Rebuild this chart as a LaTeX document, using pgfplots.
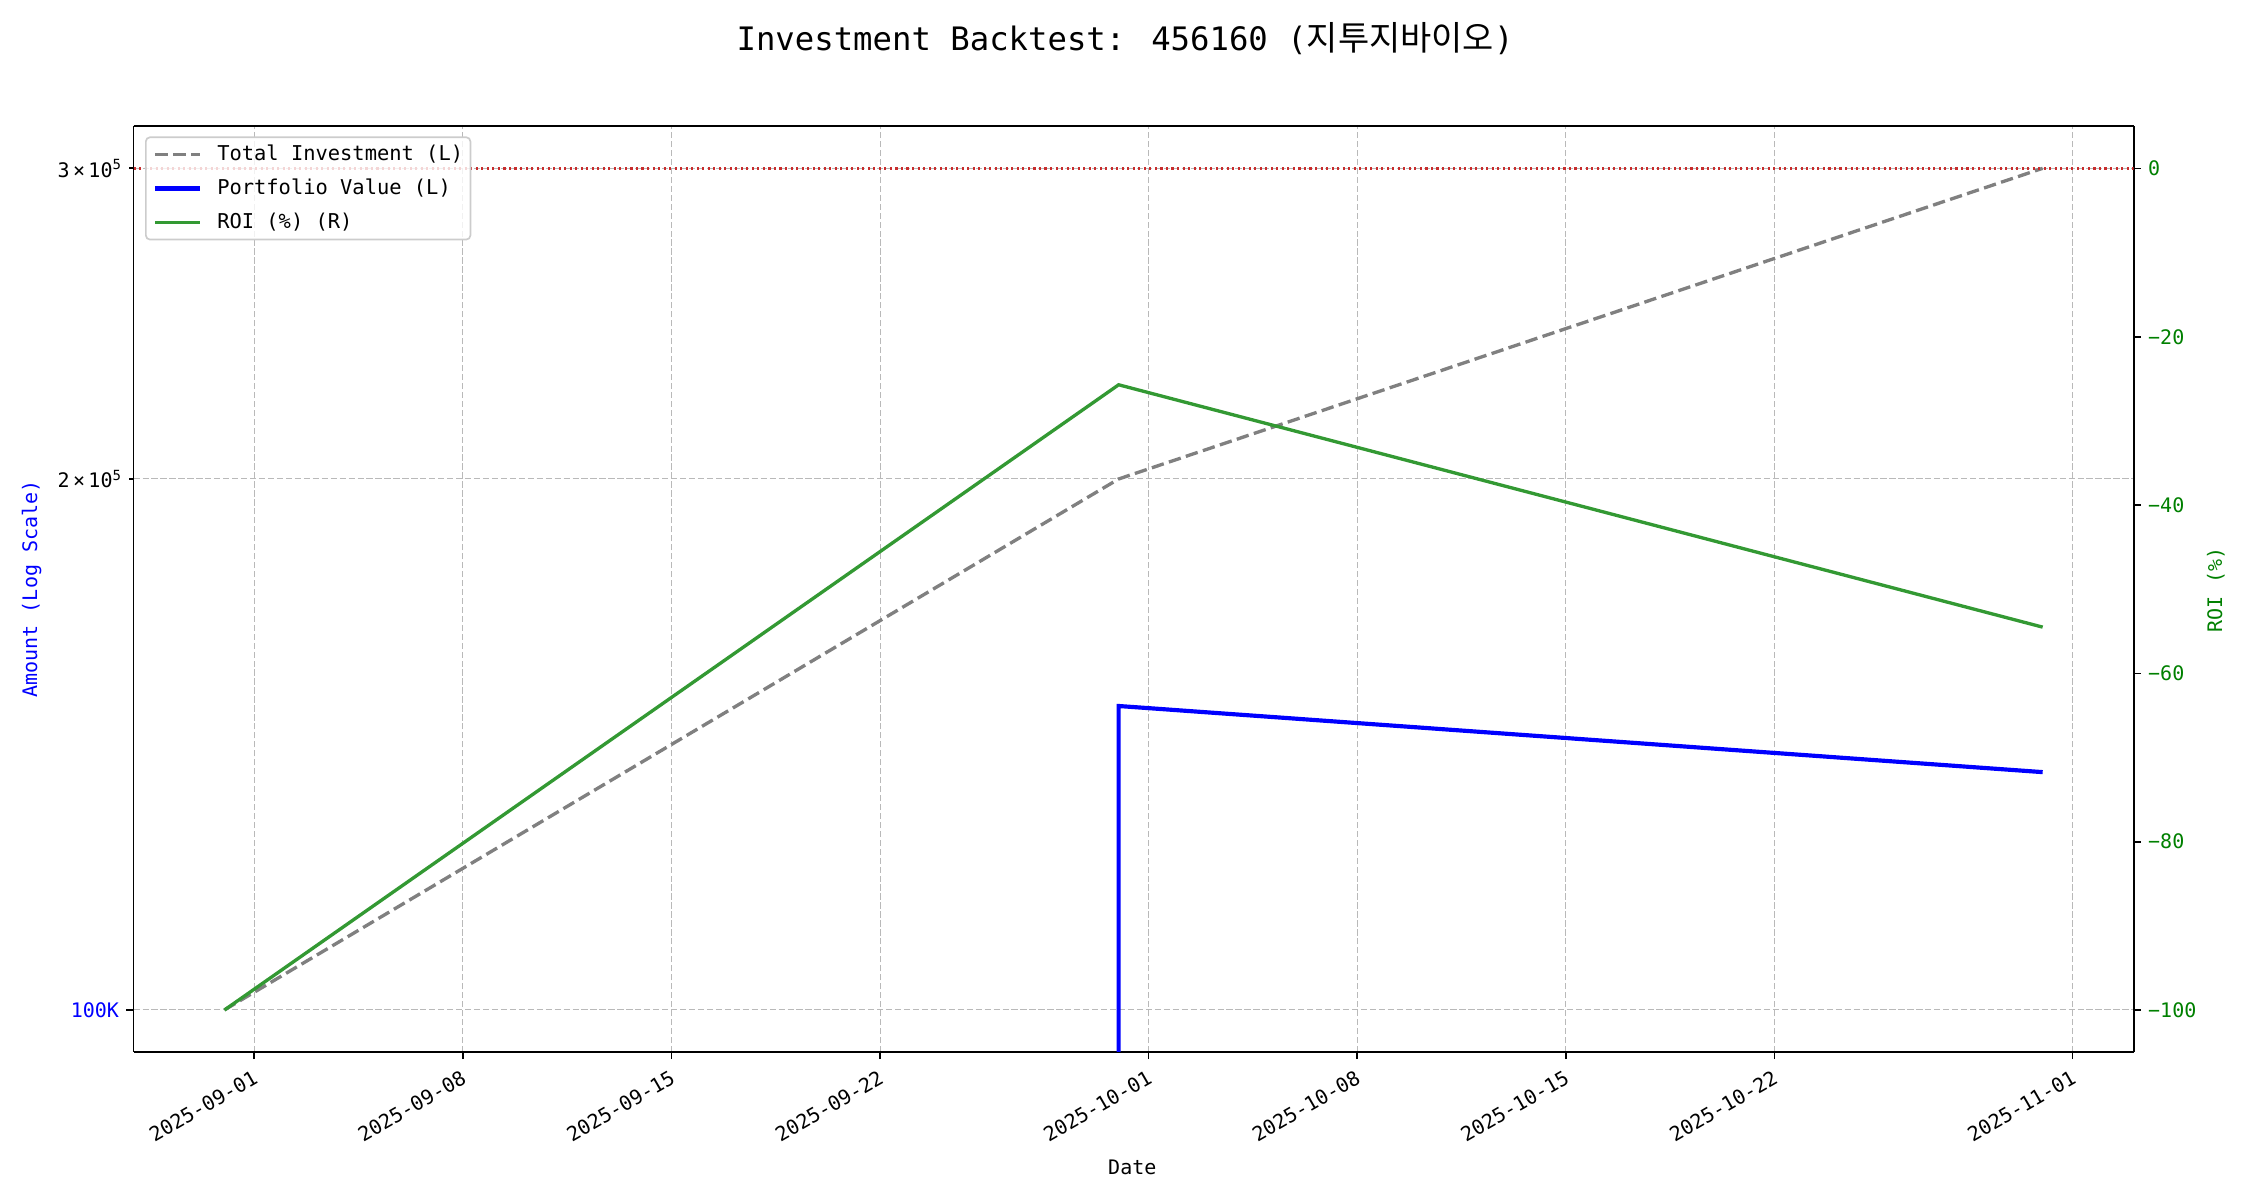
\documentclass[border=0pt]{standalone}
\usepackage{fontspec}
\setmainfont{DejaVu Sans Mono}
\newfontfamily\kr{Noto Sans CJK KR}[Scale=1.05]
\usepackage{pgfplots}
\usepackage{pgfplotstable}
\pgfplotsset{compat=1.18}

\definecolor{invgray}{RGB}{128,128,128}
\definecolor{roigreen}{RGB}{51,153,51}
\definecolor{labgreen}{RGB}{0,128,0}
\definecolor{zerored}{RGB}{200,45,45}
\definecolor{gridgray}{RGB}{185,185,185}

% x = days counted from 2025-09-01
\pgfplotstableread{
day  invest  roi
-1   100000  -100.0
29   200000  -25.7
60   300000  -54.5
}\backtest

% portfolio value is 0 on 2025-08-31: the log axis clips it, so the line drops straight down
\pgfplotstableread{
day  value
29   1
29   148700
60   136400
}\portfolio

\newcommand\tickfont{\fontsize{9.6bp}{11bp}\selectfont}

\begin{document}
\begin{tikzpicture}
\useasboundingbox (0,0) rectangle (1080bp,576bp);
\pgfplotsset{
  base/.style={
    at={(64.1bp,71bp)}, anchor=south west, scale only axis,
    width=960bp, height=444.3bp,
    xmin=-4.05, xmax=63.05,
    tick align=outside, major tick length=3.5bp, minor tick length=2bp,
    tick style={black, line width=0.8bp},
    axis line style={line width=0.9bp},
    tick label style={font=\tickfont},
  },
}
\begin{axis}[base,
  ymode=log, ymin=94657, ymax=316897,
  axis y line*=left, xtick pos=left,
  minor y tick num=0,
  xtick={0,7,14,21,30,37,44,51,61},
  xticklabels={2025-09-01,2025-09-08,2025-09-15,2025-09-22,2025-10-01,2025-10-08,2025-10-15,2025-10-22,2025-11-01},
  x tick label style={rotate=30, anchor=north east},
  ytick={100000}, yticklabels={\textcolor{blue}{100K}},
  extra y ticks={200000,300000},
  extra y tick labels={2\,×\,10\textsuperscript{5},3\,×\,10\textsuperscript{5}},
  extra y tick style={major tick length=2bp, grid=major},
  grid=major,
  grid style={gridgray, line width=0.5bp, dash pattern=on 3bp off 1.3bp},
]
\addplot[invgray, line width=1.6bp, dash pattern=on 6bp off 2.6bp] table[x=day, y=invest] {\backtest};
\addplot[blue, line width=2bp] table[x=day, y=value] {\portfolio};
\end{axis}

\begin{axis}[base,
  axis x line=none, axis y line*=right,
  ymin=-105, ymax=5,
  ytick={-100,-80,-60,-40,-20,0},
  yticklabels={−100,−80,−60,−40,−20,0},
  y tick label style={text=labgreen},
  legend cell align=left,
  legend image code/.code={\draw[#1] (0bp,0bp) -- (21.6bp,0bp);},
  legend style={at={(0,1)}, anchor=north west, xshift=5.5bp, yshift=-4.8bp,
    draw=black!20, line width=0.8bp, rounded corners=2bp,
    fill=white, fill opacity=0.8, text opacity=1,
    inner xsep=3.5bp, inner ysep=3.5bp, row sep=6.8bp,
    font=\fontsize{9.8bp}{11bp}\selectfont,
    nodes={inner sep=0bp, text height=7.5bp, text depth=2bp},
    /tikz/every odd column/.append style={column sep=7.2bp}},
]
\addlegendimage{invgray, line width=1.6bp, dash pattern=on 6bp off 2.6bp}
\addlegendentry{Total Investment (L)}
\addlegendimage{blue, line width=2bp}
\addlegendentry{Portfolio Value (L)}
\addplot[roigreen, line width=1.6bp] table[x=day, y=roi] {\backtest};
\addlegendentry{ROI (\%) (R)}
\addplot[zerored, line width=1bp, dash pattern=on 1bp off 1.65bp, forget plot] coordinates {(-4.05,0) (63.05,0)};
\end{axis}

\node[font=\fontsize{15.5bp}{18bp}\selectfont] at (540bp,557.5bp) {Investment Backtest: 456160 ({\kr 지투지바이오})};
\node[rotate=90, text=blue, font=\tickfont] at (15.2bp,293.3bp) {Amount (Log Scale)};
\node[rotate=90, text=labgreen, font=\tickfont] at (1063.6bp,292.8bp) {ROI (\%)};
\node[font=\tickfont] at (543.5bp,15.8bp) {Date};
\end{tikzpicture}
\end{document}
